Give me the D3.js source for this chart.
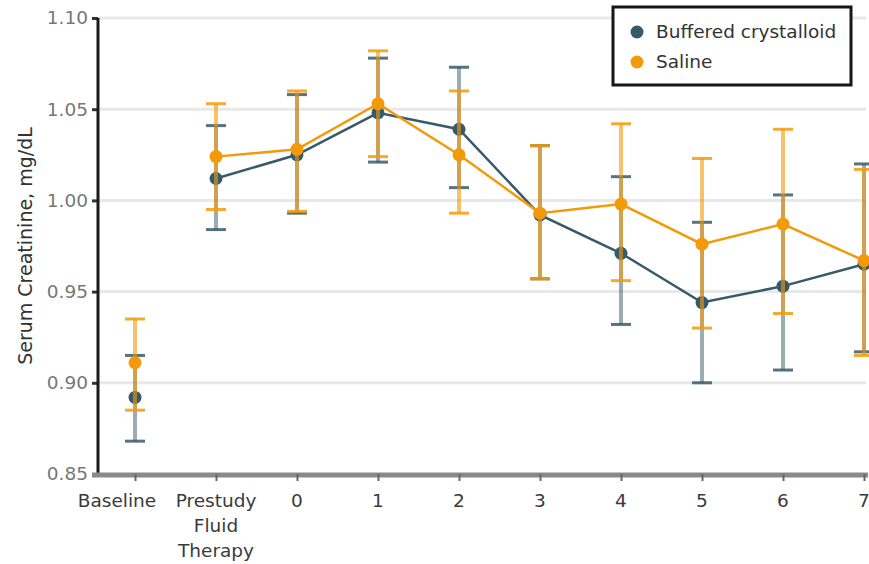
<!DOCTYPE html>
<html>
<head>
<meta charset="utf-8">
<script src="https://cdn.jsdelivr.net/npm/d3@7"></script>
<style>
  body { margin: 0; background: #fff; }
  svg text { font-family: "DejaVu Sans", sans-serif; }
</style>
</head>
<body>
<div id="chart"></div>
<script>
const categories = ["Baseline", "Prestudy Fluid Therapy", "0", "1", "2", "3", "4", "5", "6", "7"];
const yTicks = [0.85, 0.90, 0.95, 1.00, 1.05, 1.10];

const bufferedMean = [0.892, 1.012, 1.025, 1.048, 1.039, 0.992, 0.971, 0.944, 0.953, 0.965];
const bufferedLow  = [0.868, 0.984, 0.993, 1.021, 1.007, 0.957, 0.932, 0.900, 0.907, 0.917];
const bufferedHigh = [0.915, 1.041, 1.058, 1.078, 1.073, 1.030, 1.013, 0.988, 1.003, 1.020];

const salineMean = [0.911, 1.024, 1.028, 1.053, 1.025, 0.993, 0.998, 0.976, 0.987, 0.967];
const salineLow  = [0.885, 0.995, 0.994, 1.024, 0.993, 0.957, 0.956, 0.930, 0.938, 0.915];
const salineHigh = [0.935, 1.053, 1.060, 1.082, 1.060, 1.030, 1.042, 1.023, 1.039, 1.017];

const width = 869, height = 564;
const margin = { top: 18, right: 5, bottom: 90, left: 98 };

const series = [
  { name: "Buffered crystalloid", color: "#375a6b", barOpacity: 0.5, mean: bufferedMean, low: bufferedLow, high: bufferedHigh },
  { name: "Saline", color: "#f39a0a", barOpacity: 0.6, mean: salineMean, low: salineLow, high: salineHigh }
];

const svg = d3.select("#chart").append("svg")
  .attr("width", width)
  .attr("height", height);

const xScale = d3.scalePoint()
  .domain(categories)
  .range([135, 864]);

const yScale = d3.scaleLinear()
  .domain([0.85, 1.10])
  .range([height - margin.bottom, margin.top]);

// gridlines
svg.append("g")
  .selectAll("line")
  .data(yTicks.slice(1))
  .join("line")
  .attr("x1", margin.left)
  .attr("x2", 866)
  .attr("y1", d => yScale(d))
  .attr("y2", d => yScale(d))
  .attr("stroke", "#e8e8e8")
  .attr("stroke-width", 3);

// y axis
const yAxis = d3.axisLeft(yScale).tickValues(yTicks).tickFormat(d3.format(".2f")).tickSize(6).tickPadding(4);
const gy = svg.append("g")
  .attr("transform", `translate(${margin.left},0)`)
  .call(yAxis);
gy.select(".domain").remove();
gy.selectAll(".tick line").attr("stroke", "#333").attr("stroke-width", 3);
gy.selectAll(".tick text").attr("fill", "#777").attr("font-size", 18.5);
svg.append("line")
  .attr("x1", margin.left).attr("x2", margin.left)
  .attr("y1", yScale(1.10)).attr("y2", yScale(0.85))
  .attr("stroke", "#1a1a1a").attr("stroke-width", 3);

// x axis
svg.append("line")
  .attr("x1", 92).attr("x2", 868)
  .attr("y1", yScale(0.85) + 1).attr("y2", yScale(0.85) + 1)
  .attr("stroke", "#8a8a8a").attr("stroke-width", 5);
const xAxis = d3.axisBottom(xScale).tickSize(7).tickFormat("");
const gx = svg.append("g")
  .attr("transform", `translate(0,${yScale(0.85)})`)
  .call(xAxis);
gx.select(".domain").remove();
gx.selectAll(".tick line").attr("stroke", "#666").attr("stroke-width", 2);

const labelLines = d => d === "Prestudy Fluid Therapy" ? ["Prestudy", "Fluid", "Therapy"] : [d];
const labelX = d => xScale(d) + (d === "Baseline" ? -18 : 0);
const xLabels = svg.append("g")
  .selectAll("text")
  .data(categories)
  .join("text")
  .attr("x", labelX)
  .attr("y", yScale(0.85) + 33)
  .attr("text-anchor", "middle")
  .attr("fill", "#3a3a3a")
  .attr("font-size", 18.5);
xLabels.selectAll("tspan")
  .data(d => labelLines(d).map(t => ({ t, x: labelX(d) })))
  .join("tspan")
  .attr("x", d => d.x)
  .attr("dy", (d, i) => i === 0 ? 0 : 25)
  .text(d => d.t);

// y axis title
svg.append("text")
  .attr("transform", `translate(32,${(yScale(0.85) + yScale(1.10)) / 2}) rotate(-90)`)
  .attr("text-anchor", "middle")
  .attr("fill", "#333")
  .attr("font-size", 19)
  .text("Serum Creatinine, mg/dL");

// error bars, lines and points
const line = d3.line()
  .x(d => xScale(d.cat))
  .y(d => yScale(d.v));

series.forEach(s => {
  const pts = categories.map((c, i) => ({ cat: c, v: s.mean[i], lo: s.low[i], hi: s.high[i] }));
  const g = svg.append("g");

  g.selectAll("line.bar")
    .data(pts)
    .join("line")
    .attr("class", "bar")
    .attr("x1", d => xScale(d.cat)).attr("x2", d => xScale(d.cat))
    .attr("y1", d => yScale(d.lo)).attr("y2", d => yScale(d.hi))
    .attr("stroke", s.color).attr("stroke-opacity", s.barOpacity)
    .attr("stroke-width", 4);

  ["lo", "hi"].forEach(k => {
    g.selectAll(`line.cap-${k}`)
      .data(pts)
      .join("line")
      .attr("class", `cap-${k}`)
      .attr("x1", d => xScale(d.cat) - 10).attr("x2", d => xScale(d.cat) + 10)
      .attr("y1", d => yScale(d[k])).attr("y2", d => yScale(d[k]))
      .attr("stroke", s.color).attr("stroke-opacity", 0.85)
      .attr("stroke-width", 3);
  });

  g.append("path")
    .datum(pts.slice(1))
    .attr("d", line)
    .attr("fill", "none")
    .attr("stroke", s.color)
    .attr("stroke-width", 2.5);

  g.selectAll("circle")
    .data(pts)
    .join("circle")
    .attr("cx", d => xScale(d.cat))
    .attr("cy", d => yScale(d.v))
    .attr("r", 6.5)
    .attr("fill", s.color);
});

// legend
const legend = svg.append("g").attr("transform", "translate(613,7)");
legend.append("rect")
  .attr("width", 238).attr("height", 78)
  .attr("fill", "#fff")
  .attr("stroke", "#161616").attr("stroke-width", 3);
series.forEach((s, i) => {
  legend.append("circle")
    .attr("cx", 24).attr("cy", 25 + i * 30)
    .attr("r", 6.5)
    .attr("fill", s.color);
  legend.append("text")
    .attr("x", 43).attr("y", 25 + i * 30)
    .attr("dy", "0.35em")
    .attr("fill", "#333")
    .attr("font-size", 18.5)
    .text(s.name);
});
</script>
</body>
</html>
